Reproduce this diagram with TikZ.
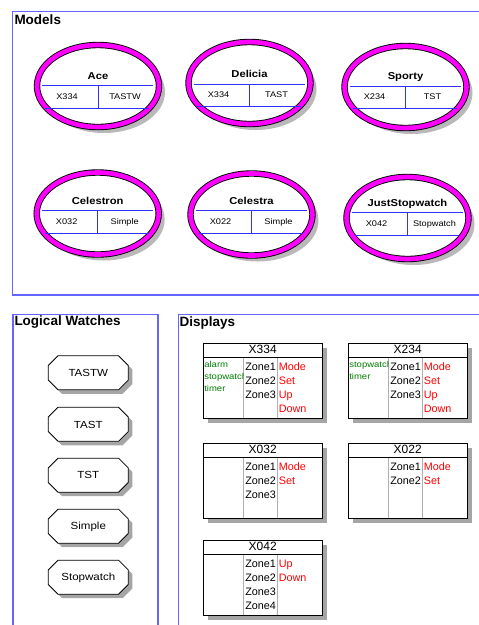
\documentclass[tikz,border=0pt]{standalone}
\usepackage{fontspec}
\setmainfont{Liberation Sans}
\newfontfamily\uifont[FakeStretch=1.12]{Liberation Sans}
\usetikzlibrary{shapes.geometric,shapes.misc,shadows,calc}

\definecolor{framec}{RGB}{100,100,255}
\definecolor{linec}{RGB}{50,50,255}
\definecolor{ringc}{RGB}{255,0,255}
\definecolor{featc}{RGB}{0,128,0}
\definecolor{btnc}{RGB}{255,0,0}
\definecolor{sepc}{RGB}{175,175,175}
\definecolor{shadec}{RGB}{165,165,165}
\definecolor{softshadec}{RGB}{185,185,185}

\newcommand\fs[1]{\fontsize{#1}{#1}\selectfont}

\tikzset{
  frame/.style={draw=framec, line width=1.3pt},
  sectitle/.style={anchor=base west, inner sep=0pt, font=\fs{13.5}\bfseries},
  model/.style={ellipse, draw=black, double=ringc, line width=0.9pt,
    double distance=4.6pt, fill=white, minimum width=122pt,
    minimum height=82pt, inner sep=0pt,
    drop shadow={shadow xshift=6pt, shadow yshift=-6pt, fill=softshadec, opacity=1}},
  mline/.style={draw=linec, line width=0.9pt},
  mtitle/.style={anchor=base, inner sep=0pt, font=\uifont\fs{10}\bfseries},
  mval/.style={anchor=base, inner sep=0pt, font=\uifont\fs{8.2}},
  watch/.style={chamfered rectangle, chamfered rectangle xsep=6pt,
    chamfered rectangle ysep=6pt, draw=black, line width=0.8pt, fill=white,
    minimum width=80pt, minimum height=34pt, inner sep=0pt,
    text height=7.4pt, text depth=0pt, font=\uifont\fs{10.3},
    drop shadow={shadow xshift=4pt, shadow yshift=-4pt, fill=shadec, opacity=1}},
  dispbox/.style={draw=black, line width=1.2pt, fill=white,
    minimum width=119pt, minimum height=75pt, inner sep=0pt,
    drop shadow={shadow xshift=5pt, shadow yshift=-5pt, fill=shadec, opacity=1}},
  disptitle/.style={anchor=base, inner sep=0pt, font=\fs{12}},
  headline/.style={draw=black, line width=1pt},
  sepline/.style={draw=sepc, line width=1pt},
  zone/.style={anchor=base west, inner sep=0pt, font=\fs{10.8}},
  feat/.style={anchor=base west, inner sep=0pt, font=\uifont\fs{8.5}, text=featc},
}

% a watch model: name, centre x, ellipse centre y, table line y, title, display, logical watch
\newcommand\modelunit[7]{%
  \node[model] (#1) at (#2,#3) {};
  \coordinate (#1-l) at (#2,#4);
  \draw[mline] ($(#1-l)+(-56,0)$) -- ($(#1-l)+(55,0)$);
  \draw[mline] ($(#1-l)+(-53,22.5)$) -- ($(#1-l)+(51,22.5)$);
  \draw[mline] (#1-l) -- ($(#1-l)+(0,22.5)$);
  \node[mtitle] (#1-t) at ($(#1-l)+(0,-6.7)$) {#5};
  \node[mval] (#1-d) at ($(#1-l)+(-31,13.6)$) {#6};
  \node[mval] (#1-w) at ($(#1-l)+(27,13.6)$) {#7};
}

% a display: name, left x, top y, title, zones, buttons
\newcommand\dispunit[6]{%
  \node[dispbox, anchor=north west] (#1) at (#2,#3) {};
  \node[disptitle] (#1-title) at ($(#1.north)+(0,11.3)$) {#4};
  \draw[headline] ($(#1.north west)+(0,15)$) -- ($(#1.north east)+(0,15)$);
  \draw[sepline] ($(#1.north west)+(41,15.5)$) -- ($(#1.south west)+(41,-0.6)$);
  \draw[sepline] ($(#1.north west)+(75,15.5)$) -- ($(#1.south west)+(75,-0.6)$);
  \foreach \t [count=\i] in {#5}
    \node[zone] (#1-z\i) at ($(#1.north west)+(42.5,{27.6+14.25*(\i-1)})$) {\t};
  \foreach \t [count=\i] in {#6}
    \node[zone, text=btnc] (#1-b\i) at ($(#1.north west)+(76,{27.6+14.25*(\i-1)})$) {\t};
}

% features of a display, clipped to its first column
\newcommand\dispfeat[2]{%
  \begin{scope}
    \clip ($(#1.north west)+(0.6,15.5)$) rectangle ($(#1.south west)+(40.5,-0.6)$);
    \foreach \t [count=\i] in {#2}
      \node[feat] (#1-f\i) at ($(#1.north west)+(1.5,{24.7+12.1*(\i-1)})$) {\t};
  \end{scope}
}

\begin{document}
\begin{tikzpicture}[x=1pt, y=-1pt]
  \useasboundingbox (0,0) rectangle (479,625);

  % section frames
  \draw[frame] (479,11.7) -- (12.7,11.7) -- (12.7,295) -- (479,295);
  \draw[frame] (13,625) -- (13,314.3) -- (158,314.3) -- (158,625);
  \draw[frame] (178.3,625) -- (178.3,314.3) -- (479,314.3);

  \node[sectitle] (models) at (14.3,24) {Models};
  \node[sectitle] (logical) at (14.3,325.5) {Logical Watches};
  \node[sectitle] (displays) at (179.5,326.5) {Displays};

  % models
  \modelunit{ace}{98}{86}{85.7}{Ace}{X334}{TASTW}
  \modelunit{delicia}{249.5}{83}{84}{Delicia}{X334}{TAST}
  \modelunit{sporty}{405.5}{87}{86}{Sporty}{X234}{TST}
  \modelunit{celestron}{97.7}{213.5}{210.7}{Celestron}{X032}{Simple}
  \modelunit{celestra}{251.5}{214.5}{210.7}{Celestra}{X022}{Simple}
  \modelunit{juststop}{407.5}{218}{212.7}{JustStopwatch}{X042}{Stopwatch}

  % logical watches
  \node[watch] (tastw) at (88.3,372.8) {TASTW};
  \node[watch] (tast) at (88.3,424.3) {TAST};
  \node[watch] (tst) at (88.3,475.2) {TST};
  \node[watch] (simple) at (88.3,526.2) {Simple};
  \node[watch] (stopwatch) at (88.3,577.2) {Stopwatch};

  % displays
  \dispunit{x334}{202.6}{342.6}{X334}{Zone1,Zone2,Zone3}{Mode,Set,Up,Down}
  \dispfeat{x334}{alarm,stopwatch,timer}
  \dispunit{x234}{347.6}{342.6}{X234}{Zone1,Zone2,Zone3}{Mode,Set,Up,Down}
  \dispfeat{x234}{stopwatch,timer}
  \dispunit{x032}{202.6}{442.6}{X032}{Zone1,Zone2,Zone3}{Mode,Set}
  \dispunit{x022}{347.6}{442.6}{X022}{Zone1,Zone2}{Mode,Set}
  \dispunit{x042}{202.6}{539.6}{X042}{Zone1,Zone2,Zone3,Zone4}{Up,Down}
\end{tikzpicture}
\end{document}
